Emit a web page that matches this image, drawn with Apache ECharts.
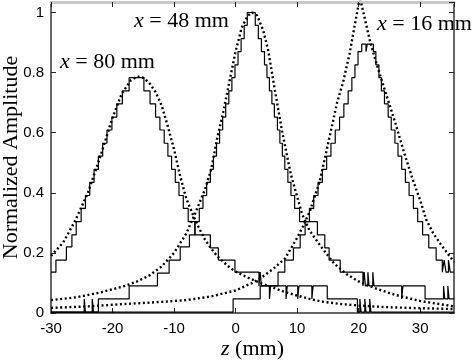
<!DOCTYPE html>
<html>
<head>
<meta charset="utf-8">
<script src="https://cdn.jsdelivr.net/npm/echarts@6/dist/echarts.min.js"></script>
<style>
  html, body { margin: 0; padding: 0; background: #fff; }
  #chart { width: 474px; height: 360px; }
</style>
</head>
<body>
<div id="chart"></div>
<script>
// measured (step) and fitted (dotted) profiles, [z (mm), amplitude]
const fitX80 = [
  [-30, 0.19], [-28, 0.235], [-26, 0.31], [-24, 0.40], [-22, 0.52], [-20, 0.65],
  [-18.5, 0.73], [-17, 0.775], [-16, 0.787], [-15, 0.783], [-14, 0.765], [-13, 0.735],
  [-12, 0.69], [-11, 0.62], [-10, 0.545], [-9, 0.455], [-8, 0.38], [-7, 0.33],
  [-6, 0.285], [-5, 0.245], [-4, 0.215], [-3, 0.19], [-2, 0.17], [-1, 0.152],
  [0, 0.138], [2, 0.118], [4, 0.10], [6, 0.085], [8, 0.07], [10, 0.058], [12, 0.047],
  [14, 0.038], [17, 0.03], [20, 0.025], [24, 0.02], [28, 0.017], [32, 0.015], [35.5, 0.013]
]
const measX80 = [
  [-30, 0.136], [-29.2, 0.176], [-27.5, 0.22], [-26.6, 0.26], [-25.9, 0.304], [-25.1, 0.348],
  [-24.4, 0.391], [-23.7, 0.435], [-23.0, 0.478], [-22.3, 0.522], [-21.6, 0.565], [-20.9, 0.609],
  [-20.1, 0.652], [-19.3, 0.696], [-18.4, 0.739], [-17.3, 0.783], [-14.9, 0.739], [-13.9, 0.696],
  [-13.0, 0.652], [-12.3, 0.609], [-11.6, 0.565], [-11.0, 0.522], [-10.4, 0.478], [-9.8, 0.435],
  [-9.2, 0.391], [-8.5, 0.348], [-7.7, 0.304], [-6.6, 0.26], [-4.1, 0.217], [-2.8, 0.176],
  [-0.1, 0.136], [3.8, 0.09], [4.0, 0.136], [4.2, 0.09], [5.5, 0.047], [5.7, 0.09], [8.2, 0.047],
  [8.4, 0.09], [10.1, 0.047], [10.3, 0.09], [12.4, 0.047], [12.6, 0.09], [14.9, 0.047],
  [19.8, 0.003], [20.2, 0.047], [20.4, 0.003], [21.0, 0.047], [21.2, 0.003], [21.8, 0.047],
  [22.0, 0.003], [35.5, 0.003]
]
const fitX48 = [
  [-30, 0.043], [-26, 0.052], [-22, 0.068], [-18, 0.09], [-16, 0.105], [-14, 0.125],
  [-12, 0.155], [-10, 0.2], [-8, 0.265], [-6.6, 0.33], [-5, 0.41], [-4, 0.475], [-3, 0.58],
  [-2, 0.67], [-1, 0.77], [0, 0.87], [1, 0.95], [2, 0.99], [2.7, 1.0], [3.5, 0.99],
  [4.5, 0.94], [5.3, 0.874], [6.4, 0.74], [7.6, 0.6], [9, 0.46], [10.8, 0.33], [12, 0.275],
  [13.7, 0.226], [16, 0.165], [18, 0.13], [20, 0.105], [23, 0.08], [26, 0.06], [30, 0.04],
  [35.5, 0.022]
]
const measX48 = [
  [-30, 0.003], [-24.6, 0.047], [-24.4, 0.003], [-23.3, 0.047], [-23.1, 0.003], [-22.3, 0.047],
  [-17.3, 0.09], [-12.7, 0.133], [-10.8, 0.176], [-9.0, 0.22], [-7.5, 0.26], [-6.6, 0.304],
  [-5.9, 0.348], [-5.3, 0.391], [-4.7, 0.435], [-4.1, 0.478], [-3.6, 0.522], [-3.1, 0.565],
  [-2.6, 0.609], [-2.1, 0.652], [-1.6, 0.696], [-1.1, 0.739], [-0.6, 0.783], [-0.1, 0.826],
  [0.4, 0.87], [0.9, 0.913], [1.4, 0.957], [1.9, 1.0], [3.2, 0.957], [3.7, 0.913], [4.2, 0.87],
  [4.7, 0.826], [5.1, 0.783], [5.5, 0.739], [5.9, 0.696], [6.3, 0.652], [6.8, 0.609],
  [7.2, 0.565], [7.6, 0.522], [8.0, 0.478], [8.5, 0.435], [9.0, 0.391], [9.6, 0.348],
  [10.4, 0.304], [13.3, 0.26], [14.5, 0.217], [15.2, 0.176], [17.0, 0.136], [20.7, 0.09],
  [20.9, 0.136], [21.1, 0.09], [21.5, 0.136], [21.7, 0.09], [22.3, 0.136], [22.5, 0.09],
  [27.0, 0.047], [27.2, 0.09], [30.8, 0.047], [33.8, 0.09], [34.0, 0.047], [34.5, 0.09],
  [34.7, 0.047], [35.5, 0.047]
]
const fitX16 = [
  [-30, 0.017], [-24, 0.022], [-18, 0.03], [-12, 0.037], [-8, 0.043], [-4, 0.055], [0, 0.075],
  [2.7, 0.10], [4, 0.115], [6, 0.145], [8, 0.18], [9, 0.215], [10, 0.25], [11, 0.29],
  [12.1, 0.34], [13.7, 0.44], [15, 0.56], [16.5, 0.7], [17.5, 0.77], [18.5, 0.86], [19.3, 0.95],
  [20.2, 1.05], [21, 0.98], [21.9, 0.9], [23.2, 0.81], [24.6, 0.72], [26, 0.63], [27.3, 0.54],
  [28.7, 0.45], [30, 0.375], [31, 0.31], [32.1, 0.266], [33.3, 0.23], [34.4, 0.2], [35.5, 0.17]
]
const measX16 = [
  [-30, 0.003], [-0.4, 0.047], [4.0, 0.09], [6.9, 0.136], [8.0, 0.176], [9.4, 0.217],
  [10.5, 0.26], [11.3, 0.304], [12.0, 0.348], [12.7, 0.391], [13.4, 0.435], [14.1, 0.478],
  [14.8, 0.522], [15.5, 0.565], [16.2, 0.609], [16.9, 0.652], [17.6, 0.696], [18.3, 0.739],
  [18.9, 0.783], [19.4, 0.826], [19.9, 0.87], [20.5, 0.895], [21.2, 0.87], [21.4, 0.895],
  [22.4, 0.87], [22.8, 0.826], [23.3, 0.783], [23.7, 0.739], [24.2, 0.696], [24.8, 0.652],
  [25.3, 0.609], [25.9, 0.565], [26.4, 0.522], [27.0, 0.478], [27.6, 0.435], [28.2, 0.391],
  [28.9, 0.348], [29.6, 0.304], [30.4, 0.26], [31.4, 0.217], [32.6, 0.176], [33.6, 0.136],
  [33.9, 0.176], [34.2, 0.136], [34.6, 0.176], [34.9, 0.136], [35.5, 0.136]
]

const serif = '"Liberation Serif", "DejaVu Serif", serif'
const sans = '"Liberation Sans", Arial, sans-serif'

const chart = echarts.init(document.getElementById('chart'))

const baseAxis = {
  type: 'value',
  axisLine: { show: true, onZero: false, lineStyle: { color: '#333', width: 1.5 } },
  axisTick: { show: true, inside: true, length: 5, lineStyle: { color: '#222', width: 1 } },
  splitLine: { show: false }
}

const stepLine = (data) => ({
  type: 'line', step: 'end', data, symbol: 'none', silent: true,
  lineStyle: { color: '#000', width: 1.2 }
})
const dotLine = (data) => ({
  type: 'line', smooth: false, data, symbol: 'none', silent: true,
  lineStyle: { color: '#000', width: 2.4, type: [2, 2.6] }
})

const labelStyle = (size) => ({
  font: size + 'px ' + serif, fill: '#000',
  rich: { i: { fontStyle: 'italic', fontSize: size, fontFamily: serif, fill: '#000' } }
})

chart.setOption({
  animation: false,
  grid: { left: 51, right: 20, top: 2, bottom: 47, outerBoundsMode: 'none' },
  xAxis: [
    { ...baseAxis, position: 'bottom', min: -30, max: 35.5, interval: 10,
      axisLabel: { color: '#000', fontFamily: sans, fontSize: 15, margin: 8, showMaxLabel: false },
      name: '{i|z} (mm)', nameLocation: 'middle', nameGap: 25, nameMoveOverlap: false,
      nameTextStyle: { color: '#000', fontFamily: serif, fontSize: 22,
        rich: { i: { fontStyle: 'italic', fontFamily: serif, fontSize: 22, color: '#000' } } } },
    { ...baseAxis, position: 'top', min: -30, max: 35.5, interval: 10,
      axisLine: { show: true, onZero: false, lineStyle: { color: '#c8c8c8', width: 3 } },
      axisLabel: { show: false } }
  ],
  yAxis: [
    { ...baseAxis, position: 'left', min: 0, max: 1.035, interval: 0.2,
      axisLabel: { color: '#000', fontFamily: sans, fontSize: 15, margin: 7, showMaxLabel: false },
      name: 'Normalized Amplitude', nameLocation: 'middle', nameGap: 29, nameMoveOverlap: false,
      nameTextStyle: { color: '#000', fontFamily: serif, fontSize: 22 } },
    { ...baseAxis, position: 'right', min: 0, max: 1.035, interval: 0.2,
      axisLabel: { show: false } }
  ],
  series: [
    stepLine(measX80), dotLine(fitX80),
    stepLine(measX48), dotLine(fitX48),
    stepLine(measX16), dotLine(fitX16)
  ],
  graphic: [
    { type: 'text', left: 60, top: 51, style: { text: '{i|x} = 80 mm', ...labelStyle(22) } },
    { type: 'text', left: 134, top: 10, style: { text: '{i|x} = 48 mm', ...labelStyle(22) } },
    { type: 'text', left: 377, top: 13, style: { text: '{i|x} = 16 mm', ...labelStyle(22) } }
  ]
})

window.addEventListener('resize', () => chart.resize())
</script>
</body>
</html>
